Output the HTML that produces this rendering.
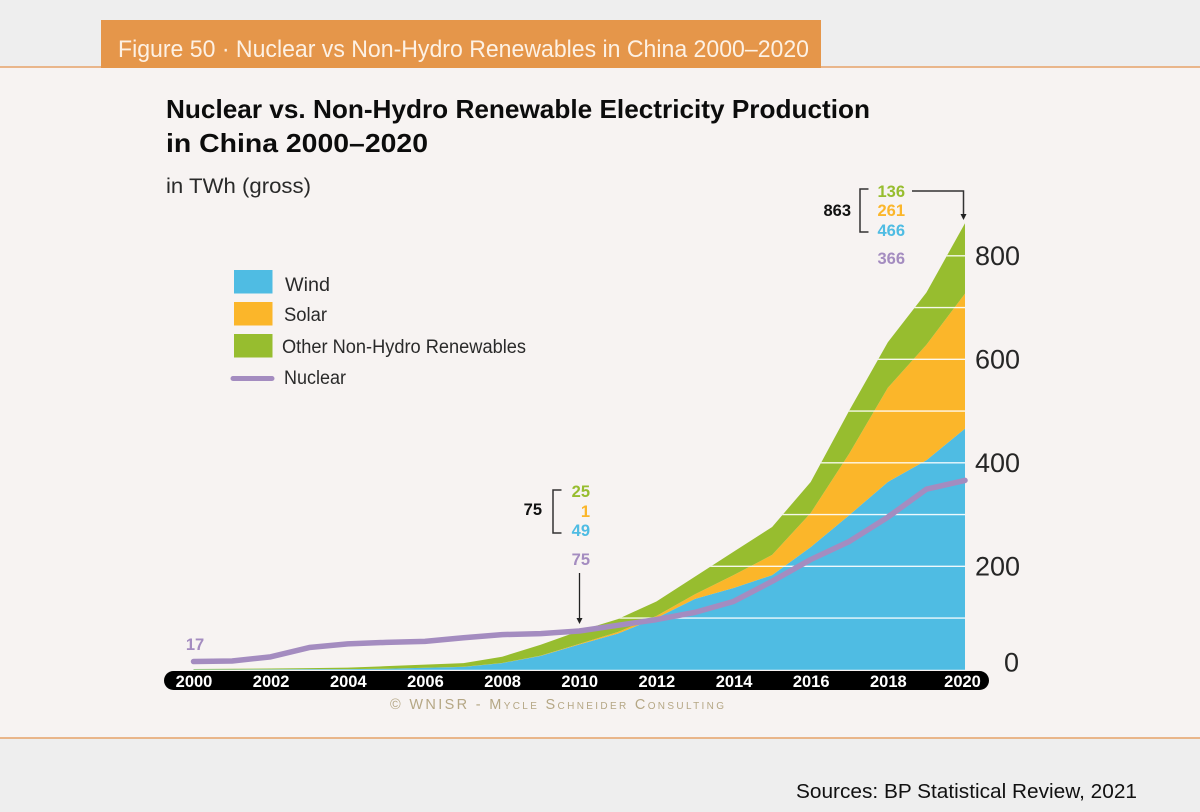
<!DOCTYPE html>
<html lang="en">
<head>
<meta charset="utf-8">
<title>Figure 50 - Nuclear vs Non-Hydro Renewables in China 2000-2020</title>
<style>
html,body{margin:0;padding:0;background:#eeeeee;}
svg{display:block;font-family:"Liberation Sans",sans-serif;}
</style>
</head>
<body>
<svg id="chart" xmlns="http://www.w3.org/2000/svg" width="1200" height="812" viewBox="0 0 1200 812">
  <rect x="0" y="0" width="1200" height="812" fill="#eeeeee"/>
  <rect x="0" y="67" width="1200" height="671" fill="#f7f3f2"/>
  <line x1="0" x2="1200" y1="67" y2="67" stroke="#e5a268" stroke-width="1.5"/>
  <line x1="0" x2="1200" y1="738" y2="738" stroke="#e5a268" stroke-width="1.5"/>
  <rect x="101" y="20" width="720" height="48" fill="#e5964a"/>
  <text x="118" y="57" font-size="24" fill="#fdf1e4" textLength="691" lengthAdjust="spacingAndGlyphs">Figure 50 · Nuclear vs Non-Hydro Renewables in China 2000–2020</text>

  <text x="166" y="118" font-size="26" font-weight="700" fill="#0c0c0c" textLength="704" lengthAdjust="spacingAndGlyphs">Nuclear vs. Non-Hydro Renewable Electricity Production</text>
  <text x="166" y="152" font-size="26" font-weight="700" fill="#0c0c0c" textLength="262" lengthAdjust="spacingAndGlyphs">in China 2000–2020</text>
  <text x="166" y="193" font-size="21" fill="#2a2a2a" textLength="145" lengthAdjust="spacingAndGlyphs">in TWh (gross)</text>

  <g id="plot"></g>

  <g>
    <rect x="234" y="270" width="38.5" height="23.5" fill="#4fbce3"/>
    <text x="285" y="291" font-size="19" fill="#2a2a2a" textLength="45" lengthAdjust="spacingAndGlyphs">Wind</text>
    <rect x="234" y="302" width="38.5" height="23.5" fill="#fbb62a"/>
    <text x="284" y="321" font-size="19" fill="#2a2a2a" textLength="43" lengthAdjust="spacingAndGlyphs">Solar</text>
    <rect x="234" y="334" width="38.5" height="23.5" fill="#97bd2f"/>
    <text x="282" y="353" font-size="19" fill="#2a2a2a" textLength="244" lengthAdjust="spacingAndGlyphs">Other Non-Hydro Renewables</text>
    <line x1="233" x2="272" y1="378.5" y2="378.5" stroke="#a48cc0" stroke-width="5" stroke-linecap="round"/>
    <text x="284" y="384" font-size="19" fill="#2a2a2a" textLength="62" lengthAdjust="spacingAndGlyphs">Nuclear</text>
  </g>

  <g font-size="16.5" font-weight="700" text-anchor="end">
    <text x="905" y="197" fill="#97bd2f">136</text>
    <text x="905" y="216" fill="#fbb62a">261</text>
    <text x="905" y="236" fill="#4fbce3">466</text>
    <text x="905" y="264" fill="#a48cc0">366</text>
    <text x="851" y="216" fill="#111111">863</text>
    <path d="M868.5,189 H860 V232 H868.5" fill="none" stroke="#333333" stroke-width="1.5"/>
    <path d="M912,191 H963.5 V215" fill="none" stroke="#333333" stroke-width="1.5"/>
    <path d="M960.5,214 L966.5,214 L963.5,220 Z" fill="#222222"/>
  </g>
  <g font-size="16.5" font-weight="700" text-anchor="end">
    <text x="590" y="497" fill="#97bd2f">25</text>
    <text x="590" y="517" fill="#fbb62a">1</text>
    <text x="590" y="536" fill="#4fbce3">49</text>
    <text x="590" y="565" fill="#a48cc0">75</text>
    <text x="542" y="515" fill="#111111">75</text>
    <path d="M561.5,490 H553 V533 H561.5" fill="none" stroke="#333333" stroke-width="1.5"/>
    <line x1="579.5" x2="579.5" y1="573" y2="619" stroke="#222222" stroke-width="1.3"/>
    <path d="M576.5,618 L582.5,618 L579.5,624 Z" fill="#222222"/>
  </g>
  <text x="195" y="650" font-size="16.5" font-weight="700" fill="#a48cc0" text-anchor="middle">17</text>

  <text x="390" y="709" font-size="14.5" fill="#b5a785" style="font-variant:small-caps" textLength="334" lengthAdjust="spacing">© WNISR - Mycle Schneider Consulting</text>
  <text x="796" y="798" font-size="20" fill="#111111" textLength="341" lengthAdjust="spacingAndGlyphs">Sources: BP Statistical Review, 2021</text>
</svg>

<script>
const years = [2000,2001,2002,2003,2004,2005,2006,2007,2008,2009,2010,2011,2012,2013,2014,2015,2016,2017,2018,2019,2020];
const wind = [0.6,0.7,0.9,1.3,1.3,2,3.9,5.6,13,27,49,70,100,137,158,183,237,299,363,405,466];
const solar = [0,0,0,0,0,0,0.1,0.2,0.2,0.3,1,3,4,9,25,39,66,119,182,223,261];
const other = [1,1.3,1.6,2,3,5,6,7,12,21,25,25,28,34,45,54,60,83,88,101,136];
const nuclear = [16,17,25,43,50,53,55,62,68,70,75,86,97,111,132,171,213,248,295,349,366];
const xTickYears = [2000,2002,2004,2006,2008,2010,2012,2014,2016,2018,2020];
const yTickLabels = [0,200,400,600,800];
const gridValues = [100,200,300,400,500,600,700,800];

const NS = 'http://www.w3.org/2000/svg';
const plot = document.getElementById('plot');
const xScale = function (year) { return 193.5 + (year - 2000) * 38.575; };
const yScale = function (value) { return 669.8 - value * 0.5175; };

function make(tag, attrs, parent) {
  const el = document.createElementNS(NS, tag);
  Object.keys(attrs).forEach(function (k) { el.setAttribute(k, attrs[k]); });
  parent.appendChild(el);
  return el;
}

function bandPath(lower, upper) {
  let d = '';
  years.forEach(function (yr, i) {
    d += (i ? 'L' : 'M') + xScale(yr).toFixed(2) + ',' + yScale(upper[i]).toFixed(2);
  });
  for (let i = years.length - 1; i >= 0; i--) {
    d += 'L' + xScale(years[i]).toFixed(2) + ',' + yScale(lower[i]).toFixed(2);
  }
  return d + 'Z';
}

const zeros = years.map(function () { return 0; });
const windTop = wind.slice();
const solarTop = wind.map(function (v, i) { return v + solar[i]; });
const otherTop = solarTop.map(function (v, i) { return v + other[i]; });

const defs = make('defs', {}, plot);
const clip = make('clipPath', { id: 'stack-clip' }, defs);
make('path', { d: bandPath(zeros, otherTop) }, clip);

const windBand = make('path', { d: bandPath(zeros, windTop), fill: '#4fbce3' }, plot);



const solarBand = make('path', { d: bandPath(windTop, solarTop), fill: '#fbb62a' }, plot);



const otherBand = make('path', { d: bandPath(solarTop, otherTop), fill: '#97bd2f' }, plot);



const gridGroup = make('g', { 'clip-path': 'url(#stack-clip)' }, plot);


gridValues.forEach(function (v) {
  const line = make('line', {
    x1: xScale(2000), x2: xScale(2020), y1: yScale(v), y2: yScale(v),
    stroke: '#ffffff', 'stroke-width': 1.3, 'stroke-opacity': 0.9
  }, gridGroup);
  
  
});

const pill = make('rect', { x: 164, y: 671, width: 825, height: 19, rx: 9.5, ry: 9.5, fill: '#000000' }, plot);



xTickYears.forEach(function (yr) {
  const t = make('text', {
    x: xScale(yr) + (yr === 2020 ? -2.5 : 0.5), y: 687, 'font-size': 16.5, 'font-weight': 700,
    fill: '#ffffff', 'text-anchor': 'middle'
  }, plot);
  t.textContent = String(yr);
  
  
});

yTickLabels.forEach(function (v) {
  const t = make('text', {
    x: 975, y: yScale(v) + 9, 'font-size': 27, fill: '#262626'
  }, plot);
  t.textContent = String(v);
  if (v === 0) {
    t.setAttribute('x', 1004);
    t.setAttribute('y', yScale(v) + 1.5);
  }
  
  
});

let nuclearD = '';
years.forEach(function (yr, i) {
  nuclearD += (i ? 'L' : 'M') + xScale(yr).toFixed(2) + ',' + yScale(nuclear[i]).toFixed(2);
});
const nuclearLine = make('path', {
  d: nuclearD, fill: 'none', stroke: '#a48cc0', 'stroke-width': 5.5,
  'stroke-linecap': 'round', 'stroke-linejoin': 'round'
}, plot);


</script>
</body>
</html>
